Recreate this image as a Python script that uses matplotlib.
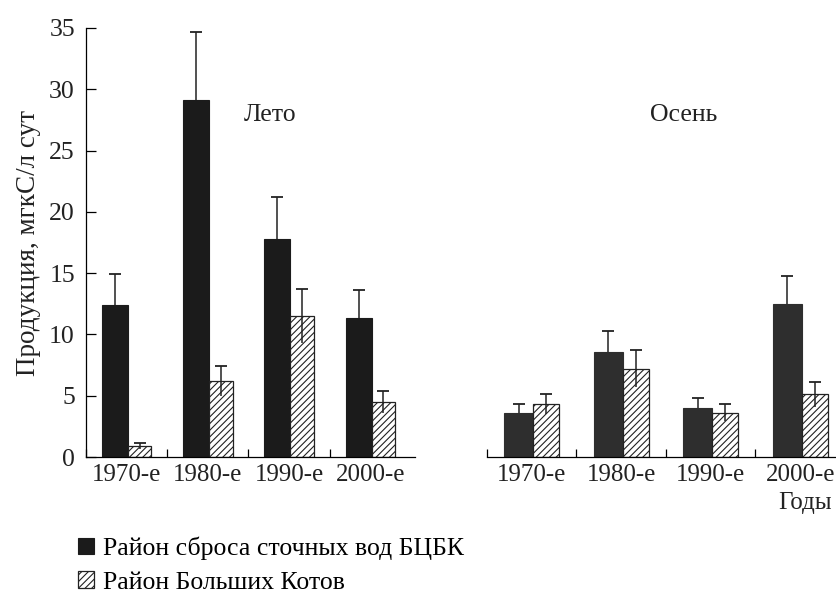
import numpy as np
import matplotlib
matplotlib.use("Agg")
import matplotlib.pyplot as plt

plt.rcParams["font.family"] = ["Liberation Serif", "DejaVu Serif"]
plt.rcParams["hatch.linewidth"] = 0.8

decades = ["1970-е", "1980-е", "1990-е", "2000-е"]

# Лето
summer_bcbk = [12.4, 29.1, 17.8, 11.3]
summer_bcbk_err = [2.5, 5.6, 3.4, 2.3]
summer_kotov = [0.9, 6.2, 11.5, 4.5]
summer_kotov_err = [0.25, 1.2, 2.2, 0.9]

# Осень
autumn_bcbk = [3.6, 8.6, 4.0, 12.5]
autumn_bcbk_err = [0.7, 1.7, 0.8, 2.3]
autumn_kotov = [4.3, 7.2, 3.6, 5.1]
autumn_kotov_err = [0.8, 1.5, 0.7, 1.0]

legend_labels = ["Район сброса сточных вод БЦБК", "Район Больших Котов"]

W, H = 837, 592
fig = plt.figure(figsize=(W / 100, H / 100), dpi=100)

ax_left = fig.add_axes([86 / W, 1 - 457 / H, 329 / W, 429 / H])
ax_right = fig.add_axes([487 / W, 1 - 457 / H, (W - 487) / W, 429 / H])

x = np.arange(len(decades))
w_dark = 0.32
w_hatch = 0.29
split = 0.515


def draw_panel(ax, dark, dark_err, hatched, hatched_err, dark_color):
    xd = x + split - w_dark / 2
    xh = x + split + w_hatch / 2
    ax.bar(xd, dark, width=w_dark, color=dark_color, edgecolor=dark_color,
           linewidth=0.8, label=legend_labels[0], zorder=2)
    ax.bar(xh, hatched, width=w_hatch, color="white", edgecolor="#222222",
           hatch="/////", linewidth=0.9, label=legend_labels[1], zorder=2)
    # under the dark bars only the upper whisker shows
    for xs, vals, errs, z in [(xd, dark, dark_err, 1), (xh, hatched, hatched_err, 3)]:
        vals = np.array(vals)
        errs = np.array(errs)
        ax.errorbar(xs, vals, yerr=errs, fmt="none", ecolor="#222222",
                    elinewidth=1.1, capsize=0, zorder=z)
        ax.plot(xs, vals + errs, linestyle="none", marker="_",
                markersize=9, markeredgewidth=1.3, color="#222222", zorder=3)

    ax.set_ylim(0, 35)
    ax.spines["top"].set_visible(False)
    ax.spines["right"].set_visible(False)
    ax.spines["bottom"].set_linewidth(0.9)
    ax.set_xticks(x, minor=False)
    ax.set_xticklabels([])
    ax.set_xticks(x + 0.5, minor=True)
    ax.set_xticklabels(decades, minor=True, fontsize=18, color="#222222")
    ax.tick_params(axis="x", which="major", direction="in", length=6,
                   width=0.9)
    ax.tick_params(axis="x", which="minor", length=0, pad=5)


draw_panel(ax_left, summer_bcbk, summer_bcbk_err, summer_kotov,
           summer_kotov_err, "#1b1b1b")
ax_left.set_xlim(0, 4.05)
ax_left.spines["left"].set_linewidth(0.9)
ax_left.set_yticks(range(0, 36, 5))
ax_left.tick_params(axis="y", direction="in", length=7, width=0.9,
                    labelsize=18.5, pad=8, labelcolor="#222222")
ax_left.set_ylabel("Продукция, мгкС/л сут", fontsize=19.5, color="#222222",
                   labelpad=6)
ax_left.text(2.26, 27.9, "Лето", fontsize=18.5, ha="center",
             va="center", color="#222222")

draw_panel(ax_right, autumn_bcbk, autumn_bcbk_err, autumn_kotov,
           autumn_kotov_err, "#2e2e2e")
ax_right.set_xlim(0, (W - 487) / 89.5)
ax_right.spines["left"].set_visible(False)
ax_right.set_yticks([])
ax_right.text(2.2, 27.9, "Осень", fontsize=18.5, ha="center",
              va="center", color="#222222")
ax_right.text(3.855, -3.75, "Годы", fontsize=18, ha="right", va="center",
              color="#222222")

handles, labels = ax_left.get_legend_handles_labels()
fig.legend(handles, labels, loc="upper left", bbox_to_anchor=(68 / W, 1 - 526 / H),
           frameon=False, fontsize=18.5, handlelength=0.6, handleheight=0.6,
           handletextpad=0.35, labelspacing=0.45, borderaxespad=0)

fig.savefig("out.png", dpi=100)
plt.close(fig)
